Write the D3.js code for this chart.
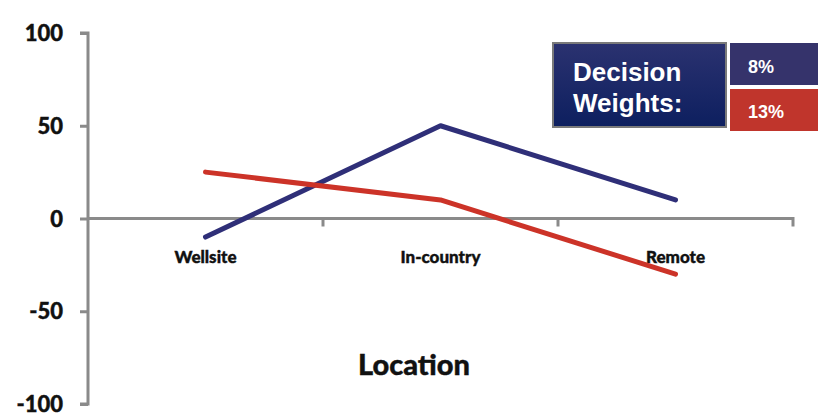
<!DOCTYPE html>
<html>
<head>
<meta charset="utf-8">
<script src="https://cdn.jsdelivr.net/npm/d3@7"></script>
<style>
  html, body { margin: 0; padding: 0; background: #fff; }
  svg { display: block; }
</style>
</head>
<body>
<svg id="chart" width="818" height="420"></svg>
<script>
// Data
const categories = ["Wellsite", "In-country", "Remote"];
const seriesA = [-10, 50, 10];   // navy line
const seriesB = [25, 10, -30];   // red line
const yTicks = [100, 50, 0, -50, -100];
const weightLabels = ["8%", "13%"];
const legendTitle = ["Decision", "Weights:"];
const xTitle = "Location";

const svg = d3.select("#chart");
const plotLeft = 88, plotRight = 793, plotTop = 33, plotBottom = 404;

const x = d3.scaleBand().domain(categories).range([plotLeft, plotRight]).padding(0);
const y = d3.scaleLinear().domain([-100, 100]).range([plotBottom, plotTop]);

const axisColor = "#8a8a8a";
const tickFont = "Lato, 'Open Sans', 'DejaVu Sans', sans-serif";

// Y axis
const yAxis = d3.axisLeft(y).tickValues(yTicks).tickSize(8).tickFormat(d => String(d));
const gy = svg.append("g").attr("transform", `translate(${plotLeft},0)`).call(yAxis);
gy.select(".domain").attr("stroke", axisColor).attr("stroke-width", 3)
  .attr("d", `M-8,${y(100)}H0V${y(-100)}H-8`);
gy.selectAll(".tick line").attr("stroke", axisColor).attr("stroke-width", 3);
gy.selectAll(".tick text")
  .attr("x", -25)
  .attr("dy", "0.35em")
  .attr("fill", "#111")
  .style("font-family", tickFont)
  .style("font-weight", "900")
  .style("font-size", "22px")
  .style("stroke", "#111").style("stroke-width", 0.4);

// X axis at zero
const xAxis = d3.axisBottom(x).tickSize(0).tickSizeOuter(0);
const gx = svg.append("g").attr("transform", `translate(0,${y(0)})`).call(xAxis);
gx.select(".domain").attr("stroke", axisColor).attr("stroke-width", 3)
  .attr("d", `M${plotLeft},0H${plotRight}V8`);
gx.selectAll(".tick text")
  .attr("dy", "0")
  .attr("y", 44)
  .attr("fill", "#111")
  .style("font-family", tickFont)
  .style("font-weight", "900")
  .style("font-size", "17px")
  .style("stroke", "#111").style("stroke-width", 0.4);
// band separators
svg.append("g").selectAll("line")
  .data(categories.slice(1))
  .join("line")
  .attr("x1", d => x(d)).attr("x2", d => x(d))
  .attr("y1", y(0)).attr("y2", y(0) + 8)
  .attr("stroke", axisColor).attr("stroke-width", 3);

// Lines
const line = d3.line()
  .x((d, i) => x(categories[i]) + x.bandwidth() / 2)
  .y(d => y(d));

svg.append("path").datum(seriesA)
  .attr("d", line).attr("fill", "none")
  .attr("stroke", "#2f2f78").attr("stroke-width", 5)
  .attr("stroke-linejoin", "round").attr("stroke-linecap", "round");

svg.append("path").datum(seriesB)
  .attr("d", line).attr("fill", "none")
  .attr("stroke", "#cc3328").attr("stroke-width", 5)
  .attr("stroke-linejoin", "round").attr("stroke-linecap", "round");

// Axis title
svg.append("text")
  .attr("x", 414).attr("y", 375)
  .attr("text-anchor", "middle")
  .attr("fill", "#111")
  .style("font-family", tickFont)
  .style("font-weight", "900")
  .style("font-size", "29px")
  .style("stroke", "#111").style("stroke-width", 0.4)
  .text(xTitle);

// Legend
const defs = svg.append("defs");
const grad = defs.append("linearGradient").attr("id", "navyGrad")
  .attr("x1", 0).attr("y1", 0).attr("x2", 0).attr("y2", 1);
grad.append("stop").attr("offset", "0%").attr("stop-color", "#2b3270");
grad.append("stop").attr("offset", "100%").attr("stop-color", "#0d1f5f");

svg.append("rect")
  .attr("x", 553).attr("y", 43).attr("width", 173).attr("height", 84)
  .attr("fill", "url(#navyGrad)")
  .attr("stroke", "#7a7a7a").attr("stroke-width", 2);

svg.append("text")
  .attr("x", 573).attr("fill", "#fff")
  .style("font-family", "'Liberation Sans', Arial, sans-serif")
  .style("font-weight", "bold")
  .style("font-size", "26px")
  .selectAll("tspan")
  .data(legendTitle)
  .join("tspan")
  .attr("x", 573)
  .attr("y", (d, i) => 81 + i * 31)
  .text(d => d);

const weightColors = ["#35336b", "#c0352c"];
const gw = svg.append("g");
gw.selectAll("rect")
  .data(weightLabels)
  .join("rect")
  .attr("x", 730)
  .attr("y", (d, i) => 43 + i * 46)
  .attr("width", 88)
  .attr("height", 42)
  .attr("fill", (d, i) => weightColors[i]);
gw.selectAll("text")
  .data(weightLabels)
  .join("text")
  .attr("x", 748)
  .attr("y", (d, i) => 73 + i * 45)
  .attr("fill", "#fff")
  .style("font-family", "'Liberation Sans', Arial, sans-serif")
  .style("font-weight", "bold")
  .style("font-size", "18px")
  .text(d => d);
</script>
</body>
</html>
